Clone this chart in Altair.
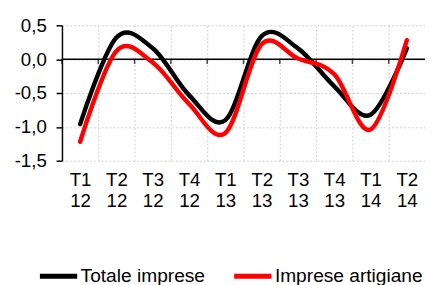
import altair as alt
import pandas as pd

categories = ["T1 12", "T2 12", "T3 12", "T4 12", "T1 13",
              "T2 13", "T3 13", "T4 13", "T1 14", "T2 14"]
series_names = ["Totale imprese", "Imprese artigiane"]
totale = [-0.96, 0.32, 0.16, -0.53, -0.90, 0.34, 0.16, -0.40, -0.82, 0.16]
artigiane = [-1.22, 0.12, -0.05, -0.66, -1.09, 0.22, 0.01, -0.22, -1.04, 0.28]

rows = []
for name, vals in zip(series_names, [totale, artigiane]):
    for c, v in zip(categories, vals):
        rows.append({"cat": c, "series": name, "value": v})
df = pd.DataFrame(rows)
cat_df = pd.DataFrame({"cat": categories})
zero_df = pd.DataFrame({"value": [0.0]})

FONT = "Liberation Sans"
GRID = "#cfcfcf"

x_axis = alt.Axis(title=None, domain=False, ticks=False, grid=True,
                  tickBand="extent", gridDash=[2, 2], gridColor=GRID,
                  labelExpr="split(datum.label, ' ')", labelAngle=0,
                  labelFontSize=19, labelLineHeight=22, labelPadding=10,
                  labelColor="black", labelOverlap=False, bandPosition=0.5)
y_scale = alt.Scale(domain=[-1.5, 0.5], nice=False, zero=False)
y_axis = alt.Axis(title=None, tickCount=5, format=".1f",
                  domainColor="black", domainWidth=1.5, tickColor="black",
                  tickSize=6, tickWidth=1.5, grid=True, gridDash=[2, 2],
                  gridColor=GRID, labelFontSize=19, labelPadding=10,
                  labelColor="black", labelOverlap=False)
x_scale = alt.Scale(type="band", paddingInner=0, paddingOuter=0)

zero_rule = alt.Chart(zero_df).mark_rule(color="black", strokeWidth=1.5).encode(
    y=alt.Y("value:Q", scale=y_scale, axis=y_axis)
)

ticks = alt.Chart(cat_df).mark_tick(
    orient="vertical", size=5, thickness=1.5, color="black", yOffset=2.5
).encode(
    x=alt.X("cat:N", sort=categories, scale=x_scale, axis=x_axis, bandPosition=0),
    y=alt.Y("value:Q", scale=y_scale, axis=y_axis),
).transform_calculate(value="0")

lines = alt.Chart(df).mark_line(
    interpolate="cardinal", strokeWidth=4.5, strokeCap="round", strokeJoin="round"
).encode(
    x=alt.X("cat:N", sort=categories, scale=x_scale, axis=x_axis, bandPosition=0.5),
    y=alt.Y("value:Q", scale=y_scale, axis=y_axis),
    color=alt.Color("series:N",
                    scale=alt.Scale(domain=series_names, range=["#000000", "#ff0000"]),
                    legend=alt.Legend(title=None, orient="none", legendX=-25, legendY=234,
                                      direction="horizontal", symbolType="stroke",
                                      symbolSize=1444, symbolStrokeWidth=5,
                                      labelFontSize=19.5, labelOffset=1,
                                      columnPadding=19, padding=0,
                                      labelColor="black", labelLimit=200)),
    detail="series:N",
)

chart = alt.layer(zero_rule, ticks, lines).properties(
    width=370, height=138,
    autosize=alt.AutoSizeParams(type="none"),
    padding={"left": 55, "top": 15, "right": 0, "bottom": 124},
).configure(font=FONT).configure_view(stroke=None).configure_axisY(labelOverlap=False)

chart.save("out.html", embed_options={
    "renderer": "svg", "actions": False,
    "formatLocale": {"decimal": ",", "thousands": ".", "grouping": [3],
                     "currency": ["", " \u20ac"], "minus": "-"},
})
